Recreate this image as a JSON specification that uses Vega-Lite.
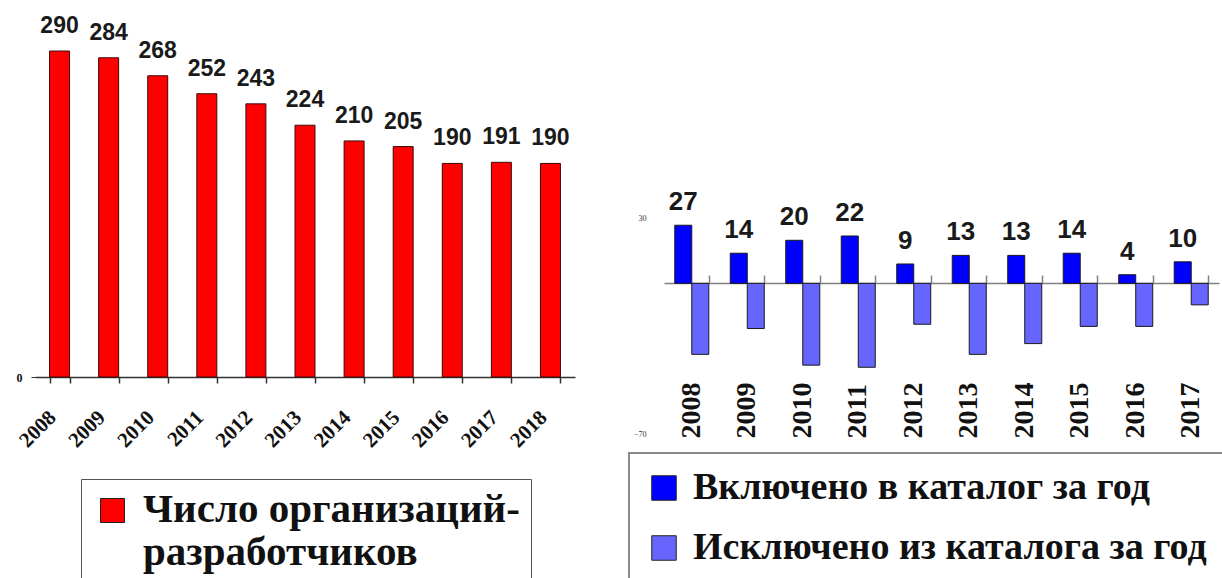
{
  "$schema": "https://vega.github.io/schema/vega-lite/v6.json",
  "background": "white",
  "padding": {"left": 15, "top": 10, "right": 0, "bottom": 0},
  "config": {"view": {"stroke": null}},
  "bounds": "flush",
  "spacing": 89,
  "resolve": {"scale": {"color": "independent"}, "legend": {"color": "independent"}},
  "datasets": {
    "orgs": [
      {"year": "2008", "value": 290},
      {"year": "2009", "value": 284},
      {"year": "2010", "value": 268},
      {"year": "2011", "value": 252},
      {"year": "2012", "value": 243},
      {"year": "2013", "value": 224},
      {"year": "2014", "value": 210},
      {"year": "2015", "value": 205},
      {"year": "2016", "value": 190},
      {"year": "2017", "value": 191},
      {"year": "2018", "value": 190}
    ],
    "catalog": [
      {"year": "2008", "kind": "Включено в каталог за год", "value": 27},
      {"year": "2008", "kind": "Исключено из каталога за год", "value": -33},
      {"year": "2009", "kind": "Включено в каталог за год", "value": 14},
      {"year": "2009", "kind": "Исключено из каталога за год", "value": -21},
      {"year": "2010", "kind": "Включено в каталог за год", "value": 20},
      {"year": "2010", "kind": "Исключено из каталога за год", "value": -38},
      {"year": "2011", "kind": "Включено в каталог за год", "value": 22},
      {"year": "2011", "kind": "Исключено из каталога за год", "value": -39},
      {"year": "2012", "kind": "Включено в каталог за год", "value": 9},
      {"year": "2012", "kind": "Исключено из каталога за год", "value": -19},
      {"year": "2013", "kind": "Включено в каталог за год", "value": 13},
      {"year": "2013", "kind": "Исключено из каталога за год", "value": -33},
      {"year": "2014", "kind": "Включено в каталог за год", "value": 13},
      {"year": "2014", "kind": "Исключено из каталога за год", "value": -28},
      {"year": "2015", "kind": "Включено в каталог за год", "value": 14},
      {"year": "2015", "kind": "Исключено из каталога за год", "value": -20},
      {"year": "2016", "kind": "Включено в каталог за год", "value": 4},
      {"year": "2016", "kind": "Исключено из каталога за год", "value": -20},
      {"year": "2017", "kind": "Включено в каталог за год", "value": 10},
      {"year": "2017", "kind": "Исключено из каталога за год", "value": -10}
    ]
  },
  "hconcat": [
    {
      "width": 540,
      "height": 367,
      "data": {"name": "orgs"},
      "encoding": {
        "x": {
          "field": "year",
          "type": "ordinal",
          "scale": {"paddingInner": 0.593, "paddingOuter": 0.2965},
          "axis": {
            "title": null,
            "grid": false,
            "domainColor": "#333",
            "domainWidth": 1.5,
            "tickColor": "#333",
            "tickWidth": 1.5,
            "tickSize": 6,
            "tickBand": "extent",
            "labelAngle": 315,
            "labelAlign": "right",
            "labelBaseline": "middle",
            "labelFont": "Liberation Serif",
            "labelFontWeight": "bold",
            "labelFontSize": 21,
            "labelColor": "#111",
            "labelPadding": 31,
            "labelOffset": -7
          }
        },
        "y": {
          "field": "value",
          "type": "quantitative",
          "scale": {"domain": [0, 326.5], "nice": false},
          "axis": {
            "values": [0],
            "title": null,
            "grid": false,
            "domain": false,
            "tickSize": 4,
            "tickColor": "#333",
            "labelFont": "Liberation Serif",
            "labelFontWeight": "bold",
            "labelFontSize": 12,
            "labelColor": "#111",
            "labelPadding": 9
          }
        }
      },
      "layer": [
        {
          "mark": {"type": "bar", "stroke": "#3a0a0a", "strokeWidth": 1},
          "encoding": {
            "color": {
              "datum": "Число организаций-разработчиков",
              "type": "nominal",
              "scale": {"range": ["#FF0000"]},
              "legend": {
                "orient": "none",
                "legendX": 46,
                "legendY": 469,
                "title": null,
                "fillColor": "white",
                "strokeColor": "#555",
                "padding": 11,
                "symbolType": "square",
                "symbolSize": 576,
                "symbolStrokeColor": "#222",
                "symbolStrokeWidth": 1,
                "labelFont": "Liberation Serif",
                "labelFontWeight": "bold",
                "labelFontSize": 41,
                "labelColor": "#111",
                "labelOffset": 10,
                "labelLimit": 1000,
                "labelBaseline": "alphabetic",
                "labelExpr": "['Число организаций-', 'разработчиков']",
                "encode": {"labels": {"update": {"dy": {"value": 11}}}}
              }
            }
          }
        },
        {
          "mark": {
            "type": "text",
            "font": "Liberation Sans",
            "fontWeight": "bold",
            "fontSize": 23,
            "baseline": "alphabetic",
            "dy": -18,
            "color": "#1a1a1a"
          },
          "encoding": {"text": {"field": "value", "type": "quantitative"}}
        }
      ]
    },
    {
      "width": 555,
      "height": 424,
      "data": {"name": "catalog"},
      "resolve": {"axis": {"x": "independent"}},
      "layer": [
        {
          "mark": {"type": "bar", "stroke": "#1a1a1a", "strokeWidth": 1},
          "encoding": {
            "x": {
              "field": "year",
              "type": "ordinal",
              "scale": {"paddingInner": 0.387, "paddingOuter": 0.194},
              "axis": {
                "orient": "bottom",
                "title": null,
                "grid": false,
                "domain": false,
                "ticks": false,
                "tickSize": 0,
                "labelAngle": 270,
                "labelAlign": "left",
                "labelBaseline": "middle",
                "labelPadding": 4,
                "labelOffset": 0,
                "labelFont": "Liberation Serif",
                "labelFontWeight": "bold",
                "labelFontSize": 28,
                "labelColor": "#111"
              }
            },
            "xOffset": {
              "field": "kind",
              "type": "nominal",
              "scale": {
                "domain": ["Включено в каталог за год", "Исключено из каталога за год"],
                "paddingInner": 0,
                "paddingOuter": 0
              }
            },
            "y": {
              "field": "value",
              "type": "quantitative",
              "scale": {"domain": [-70, 127], "nice": false},
              "axis": {
                "values": [30, -70],
                "title": null,
                "grid": false,
                "domain": false,
                "ticks": false,
                "labelFont": "Liberation Serif",
                "labelFontSize": 8,
                "labelColor": "#333",
                "labelPadding": 18
              }
            },
            "color": {
              "field": "kind",
              "type": "nominal",
              "scale": {
                "domain": ["Включено в каталог за год", "Исключено из каталога за год"],
                "range": ["#0000FF", "#6666FF"]
              },
              "legend": {
                "orient": "none",
                "legendX": -35,
                "legendY": 443,
                "direction": "vertical",
                "title": null,
                "fillColor": "white",
                "strokeColor": "#888",
                "padding": 16,
                "symbolType": "square",
                "symbolSize": 600,
                "symbolStrokeColor": "#222",
                "symbolStrokeWidth": 1,
                "labelFont": "Liberation Serif",
                "labelFontWeight": "bold",
                "labelFontSize": 38,
                "labelColor": "#111",
                "labelOffset": 10,
                "labelLimit": 1000,
                "rowPadding": 22,
                "encode": {"legend": {"update": {"strokeWidth": {"value": 2}}}}
              }
            }
          }
        },
        {
          "transform": [{"filter": "datum.kind === 'Включено в каталог за год'"}],
          "mark": {
            "type": "text",
            "font": "Liberation Sans",
            "fontWeight": "bold",
            "fontSize": 26,
            "baseline": "alphabetic",
            "dy": -15,
            "color": "#1a1a1a"
          },
          "encoding": {
            "x": {
              "field": "year",
              "type": "ordinal",
              "axis": {
                "orient": "top",
                "offset": -273,
                "title": null,
                "grid": false,
                "labels": false,
                "tickBand": "extent",
                "tickSize": 8,
                "tickWidth": 1.5,
                "tickColor": "#808080",
                "domainColor": "#808080",
                "domainWidth": 1.5
              }
            },
            "xOffset": {"field": "kind", "type": "nominal"},
            "y": {"field": "value", "type": "quantitative"},
            "text": {"field": "value", "type": "quantitative"}
          }
        }
      ]
    }
  ]
}
